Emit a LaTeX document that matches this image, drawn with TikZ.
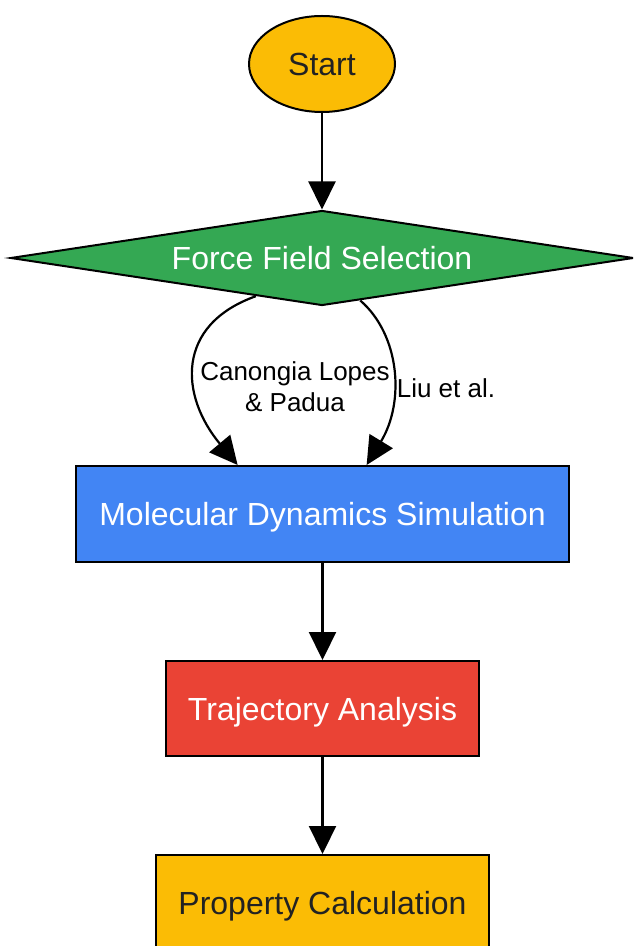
\documentclass[tikz,border=0pt]{standalone}
\usepackage{fontspec}
\setmainfont{Liberation Sans}
\usepackage{tikz}
\usetikzlibrary{shapes.geometric,arrows.meta}
\definecolor{gyellow}{HTML}{FBBC05}
\definecolor{ggreen}{HTML}{34A853}
\definecolor{gblue}{HTML}{4285F4}
\definecolor{gred}{HTML}{EA4335}
\definecolor{darktext}{HTML}{222222}
\begin{document}
\begin{tikzpicture} [x=0.5pt,y=-0.5pt,
		every node/.style={align=center,inner sep=0pt,font=\fontsize{16}{19}\selectfont},
		box/.style={draw,line width=1pt,rectangle,minimum height=48pt,text height=11.5pt,text depth=0pt},
		edgelabel/.style={font=\fontsize{13}{15.5}\selectfont,text=black},
		flow/.style={draw,line width=1.1pt,-{Triangle[length=14pt,width=13.5pt]}}]
			\useasboundingbox (0,0) rectangle (633,946);
			\clip (0,0) rectangle (633,946);
			\node [draw,line width=1pt,ellipse,fill=gyellow,text=darktext,minimum width=73pt,minimum height=48pt] (start) at (322,64) {Start};
			\node [draw,line width=1pt,diamond,aspect=6.5,fill=ggreen,text=white,minimum width=311.5pt,minimum height=47.5pt,text height=11.5pt,text depth=0pt] (fsel) at (322,258) {Force Field Selection};
			\node [box,fill=gblue,text=white,minimum width=246.5pt] (mds) at (322.5,514) {Molecular Dynamics Simulation};
			\node [box,fill=gred,text=white,minimum width=156.5pt,minimum height=47.5pt] (traj) at (322.5,708.5) {Trajectory Analysis};
			\node [box,fill=gyellow,text=darktext,minimum width=166.5pt] (prop) at (322.5,903) {Property Calculation};
			\node [edgelabel] (lbcanongia) at (295,387) {Canongia Lopes\\\& Padua};
			\node [edgelabel] (lbliu) at (446,388) {Liu et al.};
			\draw [flow] (start.south) -- (fsel.north);
			\draw [flow] (fsel.210) .. controls (175,325) and (180,396) .. (mds.150);
			\draw [flow] (fsel.-48) .. controls (400,335) and (405,402) .. (mds.48.5);
			\draw [flow] (mds.south) -- (traj.north);
			\draw [flow] (traj.south) -- (prop.north);
		\end{tikzpicture}
\end{document}
